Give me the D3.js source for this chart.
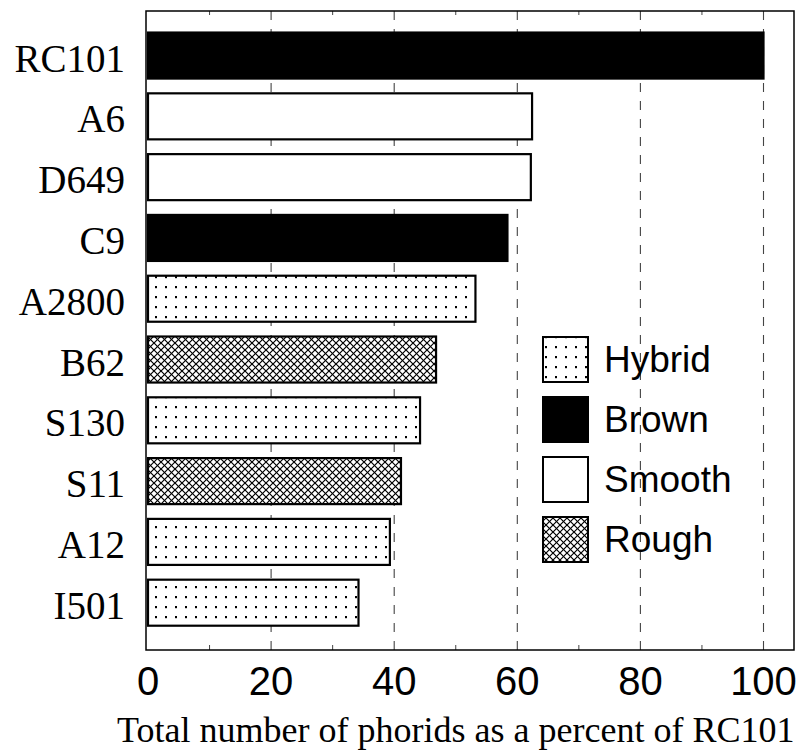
<!DOCTYPE html>
<html>
<head>
<meta charset="utf-8">
<script src="https://cdn.jsdelivr.net/npm/d3@7"></script>
<style>
  html, body { margin: 0; padding: 0; background: #fff; }
  svg { display: block; }
</style>
</head>
<body>
<svg id="chart" width="811" height="756"></svg>
<script>
// ---- data ----
const categories = ["RC101", "A6", "D649", "C9", "A2800", "B62", "S130", "S11", "A12", "I501"];
const values     = [100, 62.4, 62.2, 58.4, 53.2, 46.8, 44.2, 41.1, 39.3, 34.2];
const types      = ["Brown", "Smooth", "Smooth", "Brown", "Hybrid", "Rough", "Hybrid", "Rough", "Hybrid", "Hybrid"];
const legendTypes = ["Hybrid", "Brown", "Smooth", "Rough"];
const xTicks = [0, 20, 40, 60, 80, 100];
const xMinorTicks = [10, 30, 50, 70, 90];
const xTitle = "Total number of phorids as a percent of RC101";

// ---- layout ----
const frame = { left: 146, top: 11, right: 794, bottom: 650 };
const svg = d3.select("#chart");

const x = d3.scaleLinear().domain([0, 100]).range([148, 763.5]);
const y = d3.scaleBand().domain(categories).range([frame.top, frame.bottom])
  .paddingInner(0.243).paddingOuter(0.377).align(0.47);

// ---- patterns ----
const defs = svg.append("defs");
const dots = defs.append("pattern").attr("id", "pat-hybrid")
  .attr("patternUnits", "userSpaceOnUse").attr("width", 10).attr("height", 10)
  .attr("x", 1).attr("y", 2);
dots.append("rect").attr("width", 10).attr("height", 10).attr("fill", "#fff");
dots.append("rect").attr("x", 4).attr("y", 4).attr("width", 2).attr("height", 2.2).attr("fill", "#000");

const hatch = defs.append("pattern").attr("id", "pat-rough")
  .attr("patternUnits", "userSpaceOnUse").attr("width", 7).attr("height", 7);
hatch.append("rect").attr("width", 7).attr("height", 7).attr("fill", "#fff");
hatch.append("path").attr("d", "M-1,-1 L8,8 M-1,6 L1,8 M6,-1 L8,1").attr("stroke", "#000").attr("stroke-width", 1.2);
hatch.append("path").attr("d", "M8,-1 L-1,8 M1,-1 L-1,1 M8,6 L6,8").attr("stroke", "#000").attr("stroke-width", 1.2);

const fillFor = t => t === "Brown" ? "#000" : t === "Smooth" ? "#fff" :
  t === "Hybrid" ? "url(#pat-hybrid)" : "url(#pat-rough)";

// ---- grid lines (dashed) ----
svg.append("g").selectAll("line").data(xTicks.filter(d => d > 0)).join("line")
  .attr("x1", d => x(d)).attr("x2", d => x(d))
  .attr("y1", frame.top).attr("y2", frame.bottom)
  .attr("stroke", "#444").attr("stroke-width", 1.1).attr("stroke-dasharray", "9,9");

// minor ticks (bottom and top, inward)
const tg = svg.append("g");
tg.selectAll("line.minb").data(xMinorTicks).join("line").attr("class", "minb")
  .attr("x1", d => x(d)).attr("x2", d => x(d))
  .attr("y1", frame.bottom).attr("y2", frame.bottom - 5)
  .attr("stroke", "#444").attr("stroke-width", 1);
tg.selectAll("line.mint").data(xMinorTicks).join("line").attr("class", "mint")
  .attr("x1", d => x(d)).attr("x2", d => x(d))
  .attr("y1", frame.top).attr("y2", frame.top + 4)
  .attr("stroke", "#444").attr("stroke-width", 1);

// ---- bars ----
svg.append("g").selectAll("rect").data(categories).join("rect")
  .attr("x", x(0))
  .attr("y", d => y(d))
  .attr("width", (d, i) => x(values[i]) - x(0))
  .attr("height", y.bandwidth())
  .attr("fill", (d, i) => fillFor(types[i]))
  .attr("stroke", "#000").attr("stroke-width", 2.2);

// ---- frame ----
svg.append("rect")
  .attr("x", frame.left).attr("y", frame.top)
  .attr("width", frame.right - frame.left).attr("height", frame.bottom - frame.top)
  .attr("fill", "none").attr("stroke", "#000").attr("stroke-width", 1.5);

// ---- category labels ----
svg.append("g").selectAll("text").data(categories).join("text")
  .attr("x", 125)
  .attr("y", d => y(d) + y.bandwidth() / 2 + 16)
  .attr("text-anchor", "end")
  .attr("font-family", "'Liberation Serif', 'Times New Roman', serif")
  .attr("font-size", 39)
  .attr("fill", "#000")
  .text(d => d);

// ---- x tick labels ----
svg.append("g").selectAll("text").data(xTicks).join("text")
  .attr("x", d => x(d))
  .attr("y", 695)
  .attr("text-anchor", "middle")
  .attr("font-family", "'Liberation Sans', Arial, sans-serif")
  .attr("font-size", 40)
  .attr("fill", "#000")
  .text(d => d);

// ---- x title ----
svg.append("text")
  .attr("x", x(50)).attr("y", 742)
  .attr("text-anchor", "middle")
  .attr("font-family", "'Liberation Serif', 'Times New Roman', serif")
  .attr("font-size", 36)
  .attr("fill", "#000")
  .text(xTitle);

// ---- legend ----
const legY = d3.scaleBand().domain(legendTypes).range([337, 337 + 60 * 4]).paddingInner(0).paddingOuter(0);
const leg = svg.append("g");
leg.selectAll("rect").data(legendTypes).join("rect")
  .attr("x", 543).attr("y", d => legY(d))
  .attr("width", 45).attr("height", 45)
  .attr("fill", d => fillFor(d))
  .attr("stroke", "#000").attr("stroke-width", 2);
leg.selectAll("text").data(legendTypes).join("text")
  .attr("x", 604).attr("y", d => legY(d) + 22.5 + 12)
  .attr("font-family", "'Liberation Sans', Arial, sans-serif")
  .attr("font-size", 37)
  .attr("fill", "#000")
  .text(d => d);
</script>
</body>
</html>
